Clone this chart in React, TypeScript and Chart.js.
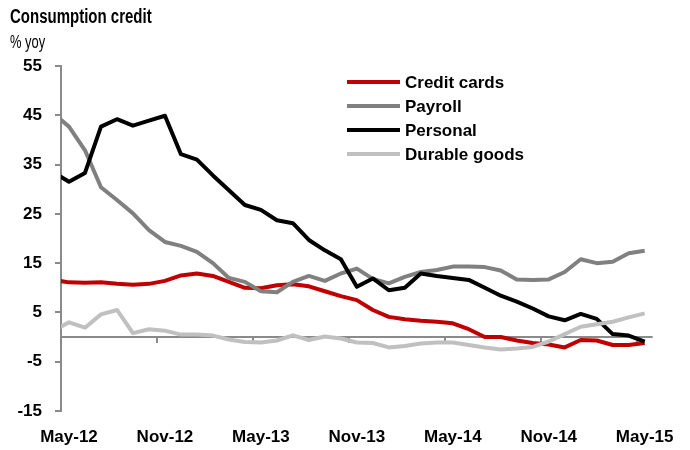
import React, { useEffect, useRef } from "react";
import { Chart, registerables } from "chart.js";

Chart.register(...registerables);

// Monthly observations, Apr-12 .. May-15 (Apr-12 sits just left of the plot and is clipped)
const months = [
  "Apr-12", "May-12", "Jun-12", "Jul-12", "Aug-12", "Sep-12", "Oct-12", "Nov-12", "Dec-12",
  "Jan-13", "Feb-13", "Mar-13", "Apr-13", "May-13", "Jun-13", "Jul-13", "Aug-13", "Sep-13", "Oct-13", "Nov-13", "Dec-13",
  "Jan-14", "Feb-14", "Mar-14", "Apr-14", "May-14", "Jun-14", "Jul-14", "Aug-14", "Sep-14", "Oct-14", "Nov-14", "Dec-14",
  "Jan-15", "Feb-15", "Mar-15", "Apr-15", "May-15",
];

const creditCards = [
  11.6, 11.1, 11.0, 11.1, 10.8, 10.6, 10.8, 11.4, 12.5,
  12.9, 12.4, 11.2, 10.0, 9.9, 10.5, 10.7, 10.3, 9.3, 8.3, 7.5, 5.5,
  4.1, 3.6, 3.3, 3.1, 2.8, 1.6, 0.0, 0.0, -0.7, -1.2, -1.5, -2.1,
  -0.6, -0.7, -1.6, -1.6, -1.2,
];

const payroll = [
  45.4, 42.7, 37.9, 30.4, 27.8, 25.1, 21.7, 19.3, 18.5,
  17.3, 15.0, 12.0, 11.2, 9.3, 9.1, 11.2, 12.4, 11.4, 12.9, 13.9, 11.8,
  10.9, 12.2, 13.2, 13.6, 14.3, 14.3, 14.2, 13.5, 11.7, 11.6, 11.7, 13.2,
  15.8, 15.0, 15.3, 17.0, 17.5,
];

const personal = [
  33.5, 31.5, 33.3, 42.7, 44.2, 42.9, 43.9, 44.9, 37.1,
  36.0, 32.8, 29.8, 26.8, 25.8, 23.7, 23.1, 19.7, 17.6, 15.8, 10.2, 11.9,
  9.5, 10.0, 12.9, 12.4, 12.0, 11.6, 10.0, 8.4, 7.2, 5.8, 4.2, 3.4,
  4.7, 3.7, 0.6, 0.3, -0.9,
];

const durableGoods = [
  1.2, 3.0, 1.9, 4.6, 5.5, 0.8, 1.6, 1.3, 0.5,
  0.5, 0.3, -0.5, -1.0, -1.1, -0.7, 0.35, -0.6, 0.1, -0.3, -1.1, -1.2,
  -2.1, -1.8, -1.3, -1.1, -1.1, -1.6, -2.1, -2.5, -2.3, -2.0, -0.9, 0.6,
  2.1, 2.6, 3.1, 4.0, 4.8,
];

const tickLabels = ["May-12", "Nov-12", "May-13", "Nov-13", "May-14", "Nov-14", "May-15"];

const seriesNames = ["Credit cards", "Payroll", "Personal", "Durable goods"];
const seriesColors = ["#C00000", "#808080", "#000000", "#C0C0C0"];
const seriesValues = [creditCards, payroll, personal, durableGoods];

const yMin = -15;
const yMax = 55;
const yStep = 10;

const AXIS = "#8a8a8a";
const FONT = "'Liberation Sans', Arial, sans-serif";

const zeroLinePlugin = {
  id: "zeroLine",
  beforeDatasetsDraw(chart: any) {
    const { ctx, chartArea, scales } = chart;
    const x = scales.x;
    const y = scales.y;
    const y0 = Math.round(y.getPixelForValue(0));
    ctx.save();
    ctx.strokeStyle = AXIS;
    ctx.lineWidth = 2;
    ctx.beginPath();
    ctx.moveTo(chartArea.left, y0);
    ctx.lineTo(chartArea.right, y0);
    for (let k = 1; k < tickLabels.length; k++) {
      const px = Math.round(x.getPixelForValue(k * 6 - 0.5));
      ctx.moveTo(px, y0);
      ctx.lineTo(px, y0 + 6);
    }
    ctx.stroke();
    ctx.restore();
  },
};

export default function App() {
  const ref = useRef<HTMLCanvasElement | null>(null);

  useEffect(() => {
    if (!ref.current) return;
    const datasets = seriesNames.map((name, s) => ({
      label: name,
      data: seriesValues[s].map((v, i) => ({ x: i - 1, y: v })),
      borderColor: seriesColors[s],
      backgroundColor: seriesColors[s],
      borderWidth: 4,
      pointRadius: 0,
      tension: 0,
      fill: false,
      clip: 0,
      order: seriesNames.length - s,
      borderJoinStyle: "round" as const,
    }));

    const chart = new Chart(ref.current, {
      type: "line",
      data: { datasets },
      plugins: [zeroLinePlugin],
      options: {
        animation: false,
        responsive: false,
        devicePixelRatio: 1,
        layout: { padding: { top: 66, right: 37, bottom: 0, left: 0 } },
        plugins: {
          legend: { display: false },
          tooltip: { enabled: false },
          title: { display: false },
        },
        scales: {
          x: {
            type: "linear",
            min: -0.5,
            max: 36.5,
            afterBuildTicks: (scale: any) => {
              scale.ticks = tickLabels.map((_, i) => ({ value: i * 6 }));
            },
            afterFit: (scale: any) => {
              scale.height = 39;
            },
            grid: { display: false, drawTicks: false },
            border: { display: false },
            ticks: {
              autoSkip: false,
              maxRotation: 0,
              padding: 16,
              color: "#000",
              font: { family: FONT, size: 17, weight: "bold" },
              callback: (_v: any, i: number) => tickLabels[i],
            },
          },
          y: {
            type: "linear",
            min: yMin,
            max: yMax,
            afterFit: (scale: any) => {
              scale.width = 61;
            },
            grid: {
              drawOnChartArea: false,
              drawTicks: true,
              tickLength: 6,
              tickColor: AXIS,
              lineWidth: 2,
            },
            border: { display: true, color: AXIS, width: 2 },
            ticks: {
              stepSize: yStep,
              padding: 13,
              color: "#000",
              font: { family: FONT, size: 17, weight: "bold" },
            },
          },
        },
      },
    });
    return () => chart.destroy();
  }, []);

  return (
    <div style={{ position: "absolute", left: 0, top: 0, width: 690, height: 450, background: "#fff", overflow: "hidden" }}>
      <canvas ref={ref} width={690} height={450} style={{ position: "absolute", left: 0, top: 0, width: 690, height: 450 }} />
      <div
        style={{
          position: "absolute", left: 10, top: 6, font: `bold 20px ${FONT}`, lineHeight: "1", color: "#000",
          whiteSpace: "nowrap", transform: "scaleX(0.75)", transformOrigin: "left top",
        }}
      >
        Consumption credit
      </div>
      <div
        style={{
          position: "absolute", left: 10, top: 32, font: `19px ${FONT}`, lineHeight: "1", color: "#000",
          whiteSpace: "nowrap", transform: "scaleX(0.68)", transformOrigin: "left top",
        }}
      >
        % yoy
      </div>
      <div style={{ position: "absolute", left: 347, top: 70 }}>
        {seriesNames.map((name, s) => (
          <div key={name} style={{ display: "flex", alignItems: "center", height: 24 }}>
            <div style={{ width: 53, height: 4, background: seriesColors[s] }} />
            <div style={{ marginLeft: 5, font: `bold 17px ${FONT}`, lineHeight: "1", color: "#000", whiteSpace: "nowrap" }}>{name}</div>
          </div>
        ))}
      </div>
    </div>
  );
}
